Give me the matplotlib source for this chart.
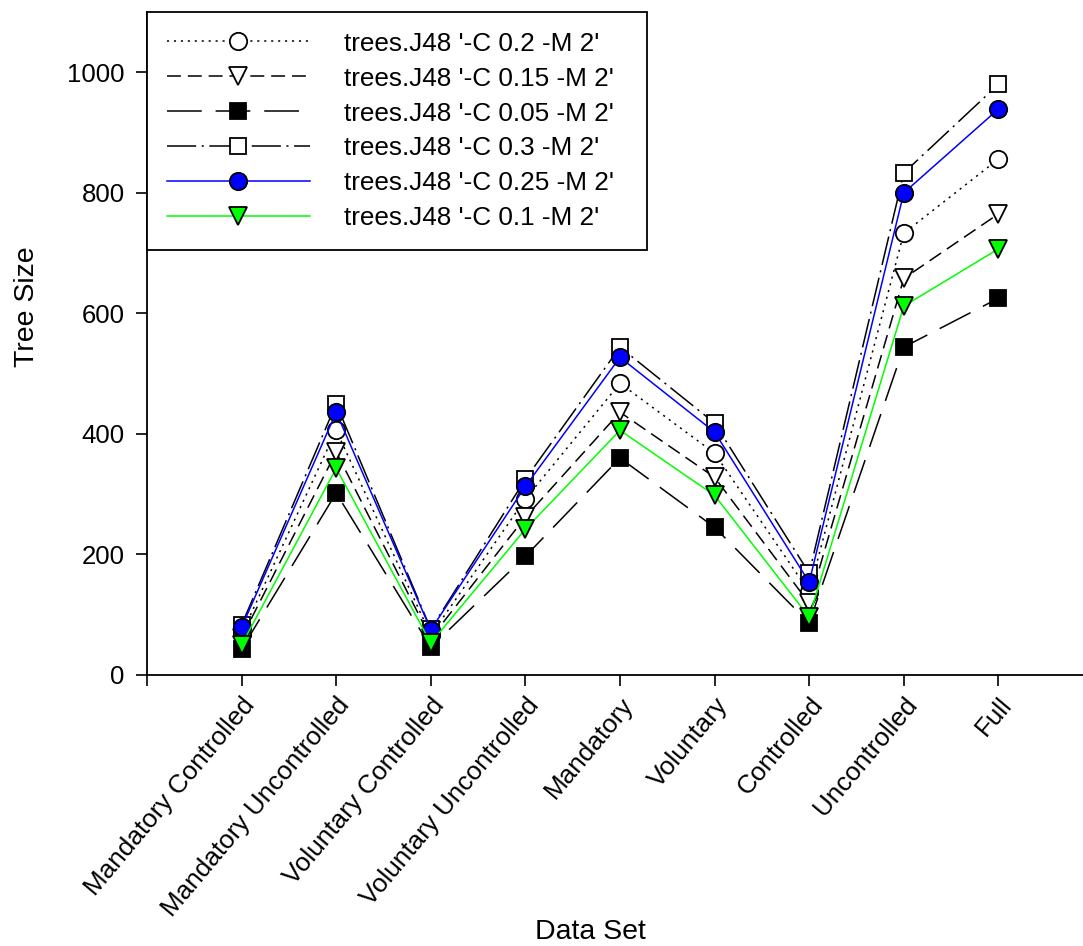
import matplotlib
matplotlib.use("Agg")
import matplotlib.pyplot as plt
import numpy as np

plt.rcParams['font.family'] = ['Liberation Sans', 'DejaVu Sans']
plt.rcParams['lines.scale_dashes'] = False

# data
categories = ["Mandatory Controlled", "Mandatory Uncontrolled", "Voluntary Controlled",
              "Voluntary Uncontrolled", "Mandatory", "Voluntary", "Controlled",
              "Uncontrolled", "Full"]
c02 = [68, 406, 66, 292, 484, 368, 138, 733, 856]
c015 = [62, 370, 61, 262, 436, 328, 119, 658, 765]
c005 = [43, 302, 46, 197, 360, 245, 86, 544, 625]
c03 = [83, 450, 76, 325, 544, 418, 169, 833, 980]
c025 = [79, 436, 75, 313, 527, 403, 154, 800, 939]
c01 = [50, 343, 53, 242, 406, 298, 96, 612, 707]
labels = ["trees.J48 '-C 0.2 -M 2'", "trees.J48 '-C 0.15 -M 2'", "trees.J48 '-C 0.05 -M 2'",
          "trees.J48 '-C 0.3 -M 2'", "trees.J48 '-C 0.25 -M 2'", "trees.J48 '-C 0.1 -M 2'"]

x = np.arange(1, len(categories) + 1)

fig = plt.figure(figsize=(10.83, 9.46), dpi=100)
ax = fig.add_axes([147/1083, 1 - 675/946, 946/1083, 663/946])

lw = 1.1
ms = 12.5
ax.plot(x, c02, color='black', lw=lw, linestyle=(0, (1.5, 3.5)), marker='o', ms=ms,
        mfc='white', mec='black', mew=1.3, label=labels[0])
ax.plot(x, c015, color='black', lw=lw, linestyle=(0, (10, 5)), marker='v', ms=ms,
        mfc='white', mec='black', mew=1.3, label=labels[1])
ax.plot(x, c005, color='black', lw=lw, linestyle=(0, (25, 10)), marker='s', ms=11,
        mfc='black', mec='black', mew=1.3, label=labels[2])
ax.plot(x, c03, color='black', lw=lw, linestyle=(0, (21, 4, 1.5, 4)), marker='s', ms=11,
        mfc='white', mec='black', mew=1.3, label=labels[3])
ax.plot(x, c025, color='blue', lw=lw, linestyle='-', marker='o', ms=ms,
        mfc='blue', mec='black', mew=1.3, label=labels[4])
ax.plot(x, c01, color='#00ff00', lw=lw, linestyle='-', marker='v', ms=ms,
        mfc='#00ff00', mec='black', mew=1.3, label=labels[5])

ax.set_xlim(0, 10)
ax.set_ylim(0, 1100)
ax.set_xticks(np.arange(0, 10))
ax.set_xticklabels([""] + categories, rotation=50, ha='right', rotation_mode='anchor')
ax.set_yticks(np.arange(0, 1001, 200))
ax.tick_params(axis='both', direction='out', length=8, width=1.2)
ax.tick_params(axis='y', labelsize=18.5, pad=8)
ax.tick_params(axis='x', labelsize=18.8, pad=5)
ax.spines['top'].set_visible(False)
ax.spines['right'].set_visible(False)
ax.spines['left'].set_linewidth(1.3)
ax.spines['bottom'].set_linewidth(1.3)

ax.set_ylabel("Tree Size", fontsize=20.5)
ax.yaxis.set_label_coords(-0.113, 0.555)
ax.set_xlabel("Data Set", fontsize=20.5)
ax.xaxis.set_label_coords(0.469, -0.368)

leg = ax.legend(loc='upper left', bbox_to_anchor=(0, 0, 500/946, 1), mode='expand',
                borderaxespad=0, fontsize=18.8,
                handlelength=5.5, handletextpad=1.3, labelspacing=0.42, borderpad=0.75,
                fancybox=False, framealpha=1, edgecolor='black')
leg.get_frame().set_linewidth(1.3)

fig.savefig("out.png", dpi=100)
